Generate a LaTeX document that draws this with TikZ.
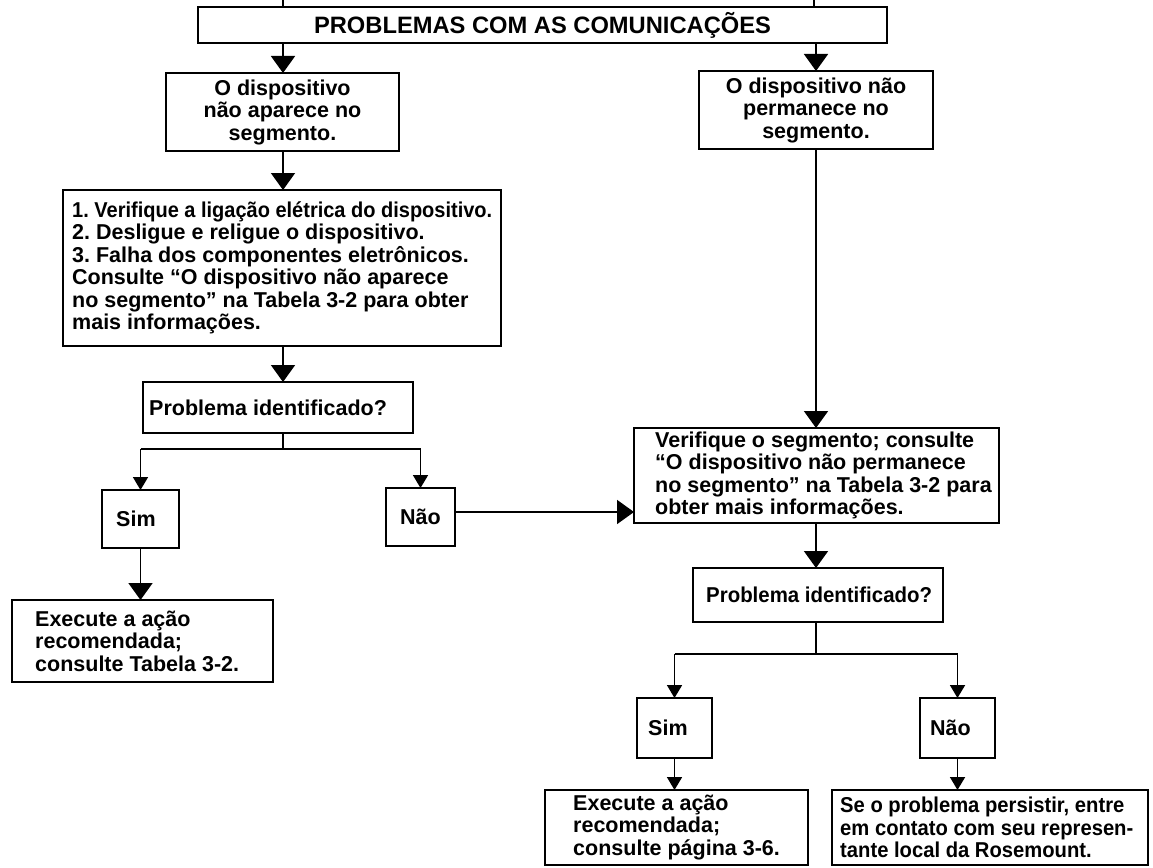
\documentclass[tikz,border=0pt]{standalone}
\usepackage{fontspec}
\usepackage{graphicx}
\setmainfont{Liberation Sans}
\usetikzlibrary{arrows.meta}
\frenchspacing
% horizontally squeezed text, used where a line is set tighter to fit its box
\newcommand{\squeeze}[2]{\scalebox{#1}[1]{#2}}
\begin{document}
\begin{tikzpicture}[x=1pt,y=-1pt,
  every node/.style={font=\fontsize{21.5}{22.5}\selectfont\bfseries},
  box/.style={draw, line width=2.2pt, inner sep=0pt, outer sep=0pt, align=center},
  txt/.style={inner sep=0pt, align=left, anchor=west},
  link/.style={line width=1.8pt},
  bigtip/.style={link, -{Triangle[length=17pt,width=24pt]}},
  smalltip/.style={link, -{Triangle[length=13pt,width=15pt]}},
]
\useasboundingbox (0,0) rectangle (1153,867);

% column guides and branch levels
\coordinate (colL) at (283,0);
\coordinate (colR) at (816,0);
\coordinate (inL) at (283,0);
\coordinate (inR) at (814,0);
\coordinate (s1) at (0,449);
\coordinate (s2) at (0,654);
\coordinate (nv) at (0,512);

% boxes
\node[box, line width=2.6pt, minimum width=689pt, minimum height=36pt,
      font=\fontsize{23.7}{26}\selectfont\bfseries] (title) at (542.5,25)
  {PROBLEMAS COM AS COMUNICAÇÕES};

\node[box, minimum width=233pt, minimum height=78pt] (A) at (282.5,112)
  {O dispositivo\\não aparece no\\segmento.};
\node[box, minimum width=234pt, minimum height=78pt] (B) at (816,110)
  {O dispositivo não\\permanece no\\segmento.};

\node[box, minimum width=438pt, minimum height=156pt] (C) at (282,268) {};
\node[txt] (Ct) at ([xshift=9pt]C.west)
  {\squeeze{0.93}{1. Verifique a ligação elétrica do dispositivo.}\\
   2. Desligue e religue o dispositivo.\\
   3. Falha dos componentes eletrônicos.\\
   Consulte “O dispositivo não aparece\\
   no segmento” na Tabela 3-2 para obter\\
   mais informações.};

\node[box, minimum width=270pt, minimum height=51pt] (D) at (278,407.5) {};
\node[txt] (Dt) at ([xshift=6pt]D.west) {Problema identificado?};

\node[box, minimum width=77pt, minimum height=58pt] (Sim1) at (140.5,519) {};
\node[txt] (Sim1t) at ([xshift=14pt]Sim1.west) {Sim};
\node[box, minimum width=69pt, minimum height=58pt] (Nao1) at (420.5,517) {};
\node[txt] (Nao1t) at ([xshift=14pt]Nao1.west) {Não};

\node[box, minimum width=261pt, minimum height=82pt] (E1) at (142.5,641) {};
\node[txt] (E1t) at ([xshift=23pt]E1.west)
  {Execute a ação\\recomendada;\\consulte Tabela 3-2.};

\node[box, minimum width=365pt, minimum height=95pt] (V) at (816.5,475.5) {};
\node[txt] (Vt) at ([xshift=21pt]V.west)
  {Verifique o segmento; consulte\\
   “O dispositivo não permanece\\
   no segmento” na Tabela 3-2 para\\
   obter mais informações.};

\node[box, minimum width=250pt, minimum height=54pt] (D2) at (818,595) {};
\node[txt] (D2t) at ([xshift=13pt]D2.west) {\squeeze{0.95}{Problema identificado?}};

\node[box, minimum width=75pt, minimum height=60pt] (Sim2) at (674.5,728) {};
\node[txt] (Sim2t) at ([xshift=11pt]Sim2.west) {Sim};
\node[box, minimum width=75pt, minimum height=60pt] (Nao2) at (957.5,728) {};
\node[txt] (Nao2t) at ([xshift=10pt]Nao2.west) {Não};

\node[box, minimum width=263pt, minimum height=75pt] (E2) at (676.5,827.5) {};
\node[txt] (E2t) at ([xshift=28pt]E2.west)
  {Execute a ação\\recomendada;\\consulte página 3-6.};
\node[box, minimum width=316pt, minimum height=75pt] (Se) at (990,827.5) {};
\node[txt] (Set) at ([xshift=8pt]Se.west)
  {\squeeze{0.94}{Se o problema persistir, entre}\\
   \squeeze{0.94}{em contato com seu represen-}\\
   \squeeze{0.94}{tante local da Rosemount.}};

% incoming lines at the top
\draw[link] (inL) -- (inL |- title.north);
\draw[link] (inR) -- (inR |- title.north);

% left column
\draw[bigtip] (title.south -| colL) -- (A.north -| colL);
\draw[bigtip] (A.south -| colL) -- (C.north -| colL);
\draw[bigtip] (C.south -| colL) -- (D.north -| colL);
\draw[link] (D.south -| colL) -- (colL |- s1);
\draw[link] (Sim1.north |- s1) -- (Nao1.north |- s1);
\draw[smalltip] (Sim1.north |- s1) -- (Sim1.north);
\draw[smalltip] (Nao1.north |- s1) -- (Nao1.north);
\draw[bigtip] (Sim1.south) -- (Sim1.south |- E1.north);
\draw[bigtip] (Nao1.east |- nv) -- (V.west |- nv);

% right column
\draw[bigtip] (title.south -| colR) -- (B.north -| colR);
\draw[bigtip] (B.south -| colR) -- (V.north -| colR);
\draw[bigtip] (V.south -| colR) -- (D2.north -| colR);
\draw[link] (D2.south -| colR) -- (colR |- s2);
\draw[link] (Sim2.north |- s2) -- (Nao2.north |- s2);
\draw[smalltip] (Sim2.north |- s2) -- (Sim2.north);
\draw[smalltip] (Nao2.north |- s2) -- (Nao2.north);
\draw[smalltip] (Sim2.south) -- (Sim2.south |- E2.north);
\draw[smalltip] (Nao2.south) -- (Nao2.south |- Se.north);
\end{tikzpicture}
\end{document}
